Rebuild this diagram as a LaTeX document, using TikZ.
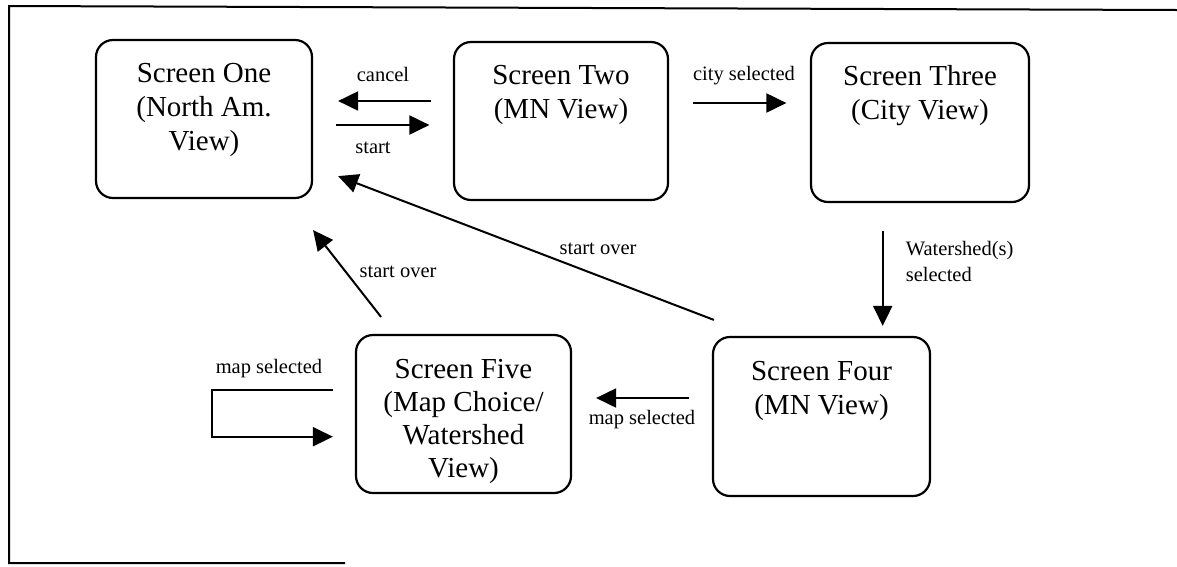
\documentclass[tikz,border=0pt]{standalone}
\usepackage{fontspec}
\setmainfont{Liberation Serif}
\usetikzlibrary{arrows.meta,calc}
\begin{document}
\begin{tikzpicture}[x=1pt,y=-1pt,
  screen/.style={draw,line width=2.2pt,rounded corners=17pt,inner sep=0pt},
  title/.style={align=center,font=\fontsize{29}{34}\selectfont,inner sep=0pt,anchor=north},
  flow/.style={line width=2pt,-{Triangle[length=20pt,width=19pt]}},
  tag/.style={font=\fontsize{20.5}{26}\selectfont,inner sep=0pt},
  frame/.style={line width=2pt}]

\useasboundingbox (0,0) rectangle (1177,566);

% outer frame (open on the right)
\coordinate (fTL) at (9,6);
\coordinate (fTR) at (1177,10);
\coordinate (fBL) at (9,563);
\coordinate (fBR) at (345,563);
\draw[frame] (fTR) -- (fTL) -- (fBL) -- (fBR);

% screens
\node[screen,minimum width=216pt,minimum height=158pt] (s1) at (204,119) {};
\node[screen,minimum width=214pt,minimum height=158pt] (s2) at (561,121) {};
\node[screen,minimum width=218pt,minimum height=159pt] (s3) at (920,122.5) {};
\node[screen,minimum width=217pt,minimum height=159pt] (s4) at (821.5,416.5) {};
\node[screen,minimum width=215pt,minimum height=158pt] (s5) at (463.5,414) {};

\node[title] (t1) at ($(s1.north)+(0,24)$) {Screen One\\(North Am.\\View)};
\node[title] (t2) at ($(s2.north)+(0,24)$) {Screen Two\\(MN View)};
\node[title] (t3) at ($(s3.north)+(0,23)$) {Screen Three\\(City View)};
\node[title] (t4) at ($(s4.north)+(0,25)$) {Screen Four\\(MN View)};
\node[title,font=\fontsize{29}{33}\selectfont] (t5) at ($(s5.north)+(0,25)$) {Screen Five\\(Map Choice/\\Watershed\\View)};

% transitions
\draw[flow] ($(s2.west)+(-22,-20)$) -- ($(s1.east)+(25,-18)$);
\draw[flow] ($(s1.east)+(23,6)$) -- ($(s2.west)+(-23.5,4)$);
\draw[flow] ($(s2.east)+(23.6,-18)$) -- ($(s3.west)+(-23.5,-19.5)$);
\draw[flow] ($(s3.south)+(-37.3,28)$) -- ($(s4.north)+(61.2,-10)$);
\draw[flow] ($(s4.west)+(-23,-18.5)$) -- ($(s5.east)+(24,-16)$);
\draw[flow] ($(s4.north west)+(2,-16)$) -- ($(s1.south east)+(25,-23)$);
\draw[flow] ($(s5.north)+(-82.5,-17)$) -- ($(s1.south east)+(0,31)$);
\draw[flow] ($(s5.west)+(-22,-24)$) -| ($(s5.west)+(-143,0)$) |- ($(s5.west)+(-22,22.7)$);

% transition labels
\node[tag] (lcancel) at (383,74) {cancel};
\node[tag] (lstart) at (373,148) {start};
\node[tag] (lcity) at (744,76) {city selected};
\node[tag,align=left,anchor=west,font=\fontsize{20.5}{26}\selectfont] (lwater) at (905.6,261) {Watershed(s)\\selected};
\node[tag] (lmap4) at (642,420) {map selected};
\node[tag] (lover1) at (598,249) {start over};
\node[tag] (lover2) at (398,272) {start over};
\node[tag] (lmap5) at (269,369) {map selected};
\end{tikzpicture}
\end{document}
